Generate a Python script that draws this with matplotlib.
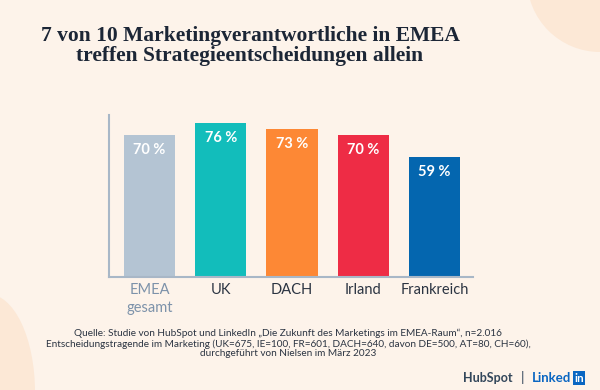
import matplotlib.pyplot as plt
from matplotlib.patches import Circle, Ellipse

# Daten
kategorien = ['EMEA\ngesamt', 'UK', 'DACH', 'Irland', 'Frankreich']
werte = [70, 76, 73, 70, 59]
farben = ['#b4c4d3', '#12bdbb', '#fd8835', '#ee2c45', '#0466af']
label_farben = ['#7d92aa', '#2b3442', '#2b3442', '#2b3442', '#2b3442']

titel = '7 von 10 Marketingverantwortliche in EMEA\ntreffen Strategieentscheidungen allein'
quelle = ('Quelle: Studie von HubSpot und LinkedIn \u201eDie Zukunft des Marketings im EMEA-Raum\u201c, n=2.016\n'
          'Entscheidungstragende im Marketing (UK=675, IE=100, FR=601, DACH=640, davon DE=500, AT=80, CH=60),\n'
          'durchgef\u00fchrt von Nielsen im M\u00e4rz 2023')

bg = '#fdf3ea'
fig = plt.figure(figsize=(6, 3.9), dpi=100, facecolor=bg)

# Deko-Kreise im Hintergrund
deko = fig.add_axes([0, 0, 1, 1], zorder=-1)
deko.set_xlim(0, 600)
deko.set_ylim(390, 0)
deko.axis('off')
deko.add_patch(Circle((600, -21), 73, color='#fce8d6', lw=0))
deko.add_patch(Ellipse((-12, 392), 94, 196, color='#fce8d6', lw=0))

ax = fig.add_axes([109/600, 113/390, 364/600, 162/390])
ax.set_facecolor('none')
x = range(len(werte))
bars = ax.bar(x, werte, width=0.72, color=farben)
ax.set_xlim(-0.57, 4.54)
ax.set_ylim(0, 79.8)

for xi, v in zip(x, werte):
    ax.text(xi, v - 7.4, f'{v} %', ha='center', va='center', color='white',
            fontsize=10.5, fontweight='bold', family='Lato')

for s in ['top', 'right']:
    ax.spines[s].set_visible(False)
for s in ['left', 'bottom']:
    ax.spines[s].set_color('#a8b7c7')
    ax.spines[s].set_linewidth(1.5)
ax.set_yticks([])
ax.set_xticks(list(x))
ax.set_xticklabels(kategorien, fontsize=10.5, family='Lato', linespacing=1.35)
ax.tick_params(axis='x', length=0, pad=4.5)
for lab, c in zip(ax.get_xticklabels(), label_farben):
    lab.set_color(c)

# Titel
fig.text(250/600, 1 - 46/390, titel, ha='center', va='center', fontsize=15.5,
         fontweight='bold', family='Liberation Serif', color='#1c2636', linespacing=1.05)

# Quelle
fig.text(288/600, 1 - 343.5/390, quelle, ha='center', va='center', fontsize=7.2,
         family='Lato', color='#2b3442', linespacing=1.1)

# Logos
fig.text(463/600, 1 - 378/390, 'HubSpot', ha='left', va='center', fontsize=9,
         fontweight='bold', family='Lato', color='#33475b')
fig.text(523/600, 1 - 377/390, '|', ha='center', va='center', fontsize=10,
         family='Lato', color='#33475b')
fig.text(532/600, 1 - 378/390, 'Linked', ha='left', va='center', fontsize=9.5,
         fontweight='bold', family='Lato', color='#0a66c2')
fig.text(579/600, 1 - 378/390, 'in', ha='center', va='center', fontsize=8.5,
         fontweight='bold', family='Lato', color='white',
         bbox=dict(boxstyle='square,pad=0.12', fc='#0a66c2', ec='none'))

fig.savefig('out.png', dpi=100, facecolor=bg)
